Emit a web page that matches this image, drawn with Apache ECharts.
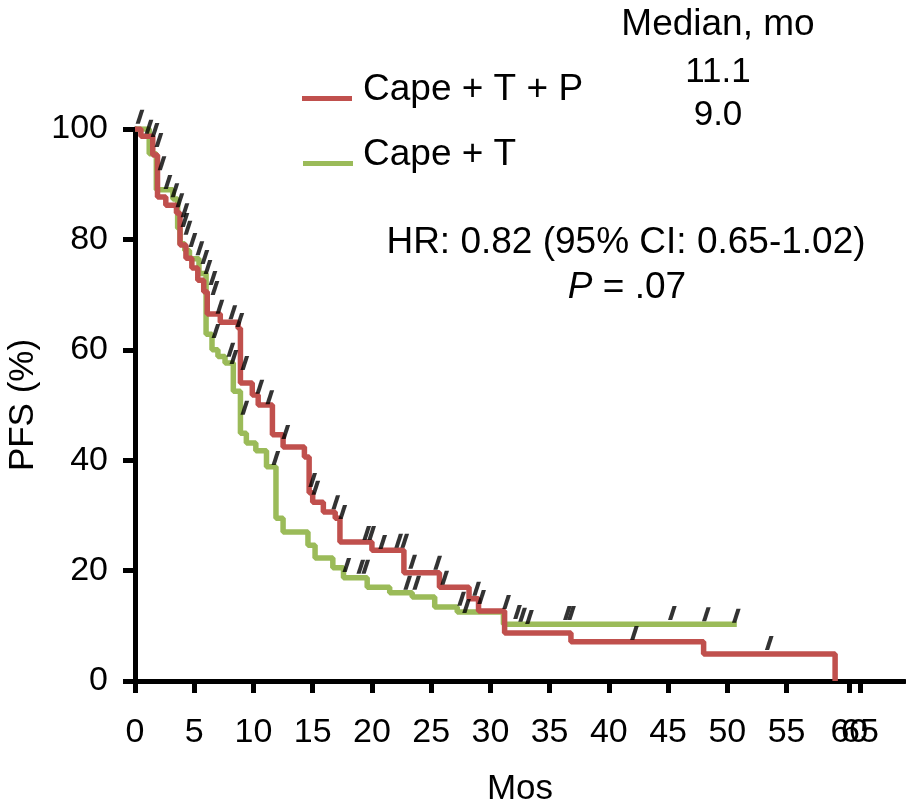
<!DOCTYPE html>
<html>
<head>
<meta charset="utf-8">
<script src="https://cdn.jsdelivr.net/npm/echarts@6/dist/echarts.min.js"></script>
<style>
html,body{margin:0;padding:0;background:#fff;}
#chart{width:906px;height:805px;}
</style>
</head>
<body>
<div id="chart"></div>
<script>
// ---- data ----
const seriesNames = ['Cape + T + P', 'Cape + T'];
// Kaplan-Meier steps [month, PFS %]
const capeTP = [[0,100],[0.5,98.7],[1.5,95.3],[1.9,87.7],[2.6,86.2],[3.5,84.8],[3.8,79.0],[4.3,76.6],[4.8,74.8],[5.3,72.6],[5.8,70.5],[6.1,66.5],[7.2,65.0],[8.7,63.9],[8.9,54.0],[9.9,51.8],[10.4,50.0],[11.6,44.6],[12.5,42.4],[14.3,40.6],[14.7,34.1],[15.0,32.4],[15.9,30.6],[16.9,29.5],[17.3,25.2],[20.0,23.7],[22.7,19.6],[25.7,17.0],[28.2,14.9],[29.0,12.7],[31.2,8.7],[36.8,7.1],[48.0,4.9],[59.1,0]];
const capeT = [[0,100],[1.2,95.5],[1.8,89.0],[3.2,87.3],[3.6,82.0],[3.8,79.2],[4.2,78.0],[4.6,76.5],[5.4,73.8],[6.0,62.8],[6.5,60.0],[7.0,58.8],[7.6,57.6],[8.3,52.5],[8.9,44.9],[9.4,43.1],[10.2,41.7],[11.1,38.8],[11.9,29.5],[12.5,27.0],[14.6,24.6],[15.2,22.3],[16.7,20.5],[17.6,18.7],[19.6,17.0],[21.5,16.0],[23.4,15.2],[25.3,13.4],[27.2,12.5],[31.1,10.3],[50.8,10.3]];
// censor marks [month, PFS %]
const censorTP = [[0.42,102.2],[1.18,100.4],[1.69,99.8],[2.02,98.0],[2.28,93.8],[2.78,90.4],[3.37,88.9],[3.79,87.1],[4.22,85.3],[4.22,83.5],[4.47,82.1],[4.89,79.9],[5.48,78.4],[5.90,76.8],[6.16,75.0],[6.58,73.0],[6.75,71.2],[7.17,67.8],[8.26,66.8],[8.85,65.4],[9.27,57.6],[10.54,53.3],[11.38,51.4],[12.73,45.1],[15.0,36.4],[15.26,35.0],[16.95,32.4],[17.54,30.6],[19.56,26.8],[19.98,26.8],[20.91,25.2],[22.26,25.4],[22.77,25.4],[23.44,21.6],[25.55,21.4],[26.14,18.7],[28.84,16.7],[29.26,15.2],[31.37,14.3],[36.5,12.3],[36.85,12.3],[42.16,8.7],[53.54,6.9]];
const censorT = [[6.83,63.4],[8.09,60.0],[8.35,58.7],[9.27,49.5],[11.89,40.4],[17.88,21.0],[19.06,20.7],[19.48,20.7],[23.02,17.8],[23.78,17.8],[27.57,14.9],[27.99,13.6],[32.29,12.5],[32.72,12.0],[33.3,11.6],[45.36,12.3],[48.23,12.1],[50.76,11.8]];
const xTickValues = [0,5,10,15,20,25,30,35,40,45,50,55,60.3,61.2];
const xTickLabels = ['0','5','10','15','20','25','30','35','40','45','50','55','60','65'];
const medianHeader = 'Median, mo';
const medians = ['11.1', '9.0'];
const hrText = 'HR: 0.82 (95% CI: 0.65-1.02)';
const pText = '{i|P} = .07';

// ---- chart ----
const FF = '"Liberation Sans", Arial, sans-serif';
const RED = '#c0504d', GREEN = '#9bbb59';
const chart = echarts.init(document.getElementById('chart'), null, {renderer:'canvas'});
const censorSymbol = 'path://M0,14 L4.2,14 L8.7,0 L4.5,0 Z';
const legendIcon = 'path://M0,0 L0.01,0 L0.01,0.01 Z M0,18 L50,18 L50,23 L0,23 Z';
const mainTicks = xTickValues.slice(0, -1);
const extraTicks = xTickValues.slice(-1);
const labelOf = v => xTickLabels[xTickValues.indexOf(v)];

const option = {
  animation: false,
  backgroundColor: '#fff',
  textStyle: {fontFamily: FF, color: '#000'},
  grid: {left: 135, right: 1, top: 129, bottom: 124, containLabel: false, outerBoundsMode: 'none'},
  legend: [
    {data: [seriesNames[0]], left: 297, top: 66, icon: legendIcon, itemWidth: 50, itemHeight: 23,
     textStyle: {fontSize: 37, fontFamily: FF, color: '#000', padding: [0,0,0,6]}, selectedMode: false},
    {data: [seriesNames[1]], left: 298, top: 131, icon: legendIcon, itemWidth: 50, itemHeight: 23,
     textStyle: {fontSize: 37, fontFamily: FF, color: '#000', padding: [0,0,0,5]}, selectedMode: false}
  ],
  xAxis: [{
    type: 'value', min: 0, max: 65, position: 'bottom',
    name: 'Mos', nameLocation: 'middle', nameGap: 91,
    nameTextStyle: {fontSize: 35, fontFamily: FF, color: '#000'},
    axisLine: {show: true, onZero: false, lineStyle: {color: '#000', width: 5}},
    axisTick: {show: true, inside: false, length: 12, customValues: mainTicks, lineStyle: {color: '#000', width: 5}},
    axisLabel: {customValues: mainTicks, formatter: labelOf, hideOverlap: false, fontSize: 34, fontFamily: FF, color: '#000', margin: 35},
    splitLine: {show: false}
  }, {
    type: 'value', min: 0, max: 65, position: 'bottom', gridIndex: 0,
    axisLine: {show: false},
    axisTick: {show: true, inside: false, length: 12, customValues: extraTicks, lineStyle: {color: '#000', width: 5}},
    axisLabel: {customValues: extraTicks, formatter: labelOf, hideOverlap: false, fontSize: 34, fontFamily: FF, color: '#000', margin: 35},
    splitLine: {show: false}
  }],
  yAxis: {
    type: 'value', min: 0, max: 100, interval: 20,
    name: 'PFS (%)', nameLocation: 'middle', nameGap: 90, nameRotate: 90,
    nameTextStyle: {fontSize: 35, fontFamily: FF, color: '#000'},
    axisLine: {show: true, onZero: false, lineStyle: {color: '#000', width: 5}},
    axisTick: {show: true, inside: false, length: 12, lineStyle: {color: '#000', width: 5}},
    axisLabel: {fontSize: 34, fontFamily: FF, color: '#000', margin: 27},
    splitLine: {show: false}
  },
  series: [
    {name: seriesNames[1], type: 'line', step: 'end', data: capeT, showSymbol: false, symbol: 'none',
     lineStyle: {color: GREEN, width: 5.5}, itemStyle: {color: GREEN}, z: 2},
    {name: seriesNames[0], type: 'line', step: 'end', data: capeTP, showSymbol: false, symbol: 'none',
     lineStyle: {color: RED, width: 5.5}, itemStyle: {color: RED}, z: 3},
    {name: 'censor-TP', type: 'scatter', data: censorTP, symbol: censorSymbol, symbolSize: [8.7, 14],
     itemStyle: {color: '#000'}, clip: false, silent: true, z: 5},
    {name: 'censor-T', type: 'scatter', data: censorT, symbol: censorSymbol, symbolSize: [8.7, 14],
     itemStyle: {color: '#000'}, clip: false, silent: true, z: 5}
  ],
  graphic: [
    {type: 'text', x: 718, y: 25, style: {text: medianHeader, fontSize: 37, fontFamily: FF, fill: '#000', align: 'center', verticalAlign: 'middle'}},
    {type: 'text', x: 718, y: 72, style: {text: medians[0], fontSize: 35, fontFamily: FF, fill: '#000', align: 'center', verticalAlign: 'middle'}},
    {type: 'text', x: 718, y: 115, style: {text: medians[1], fontSize: 35, fontFamily: FF, fill: '#000', align: 'center', verticalAlign: 'middle'}},
    {type: 'text', x: 626, y: 243, style: {text: hrText, fontSize: 37, fontFamily: FF, fill: '#000', align: 'center', verticalAlign: 'middle'}},
    {type: 'text', x: 627, y: 288, style: {text: pText, fontSize: 37, fontFamily: FF, fill: '#000', align: 'center', verticalAlign: 'middle',
      rich: {i: {fontStyle: 'italic', fontSize: 37, fontFamily: FF, fill: '#000'}}}}
  ]
};
chart.setOption(option);
</script>
</body>
</html>
